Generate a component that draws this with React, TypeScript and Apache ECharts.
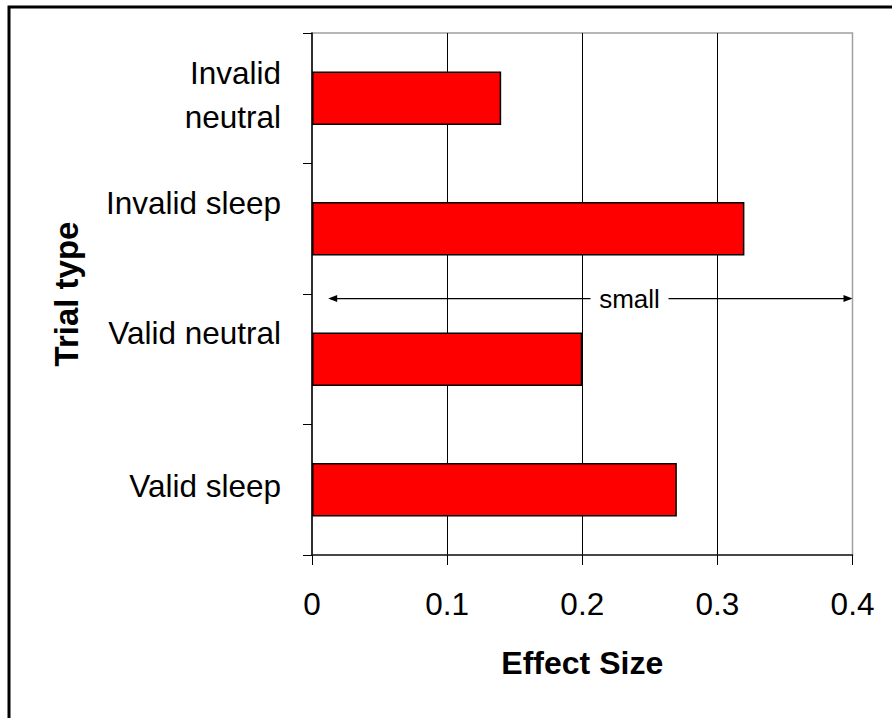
import React, { useEffect, useRef } from "react";
import * as echarts from "echarts";

// ---- data ----
const categories: string[] = ["Invalid neutral", "Invalid sleep", "Valid neutral", "Valid sleep"];
const categoryLabels: string[] = ["Invalid\nneutral", "Invalid sleep", "Valid neutral", "Valid sleep"];
const raisedLabels: string[] = ["Invalid sleep", "Valid neutral"]; // labels set higher in the original
const effectSizes: number[] = [0.14, 0.32, 0.2, 0.27];
const xTicks: number[] = [0, 0.1, 0.2, 0.3, 0.4];
const rangeLabel = "small";
const rangeFrom = 0.012; // arrow start (effect size)
const rangeTo = 0.4; // arrow end (effect size)
const rangeTextAt = 0.235; // label centre (effect size)

const FONT = "'Liberation Sans', Arial, Helvetica, sans-serif";

export default function App() {
  const ref = useRef<HTMLDivElement>(null);

  useEffect(() => {
    document.body.style.margin = "0";
    if (!ref.current) return;
    const chart = echarts.init(ref.current, null, { renderer: "svg" });

    const labelFont = { fontFamily: FONT, fontSize: 31.5, color: "#000" };

    const option: any = {
      animation: false,
      backgroundColor: "#ffffff",
      textStyle: { fontFamily: FONT, color: "#000" },
      grid: {
        show: true,
        left: 312,
        top: 33,
        right: 39.5,
        bottom: 163,
        borderColor: "#a0a0a0",
        borderWidth: 1.5,
        backgroundColor: "transparent",
      },
      xAxis: {
        type: "value",
        min: xTicks[0],
        max: xTicks[xTicks.length - 1],
        interval: 0.1,
        name: "Effect Size",
        nameLocation: "middle",
        nameGap: 92,
        nameTextStyle: { fontFamily: FONT, fontSize: 32, fontWeight: "bold", color: "#000" },
        axisLine: { show: true, lineStyle: { color: "#222", width: 1.5 } },
        axisTick: { show: true, length: 10, lineStyle: { color: "#000", width: 1 } },
        axisLabel: {
          ...labelFont,
          margin: 33,
          formatter: (v: number) => (v === 0 ? "0" : String(Math.round(v * 10) / 10)),
        },
        splitLine: {
          show: true,
          showMinLine: false,
          showMaxLine: false,
          lineStyle: { color: "#000", width: 1 },
        },
      },
      yAxis: {
        type: "category",
        data: categoryLabels,
        inverse: true,
        name: "Trial type",
        nameLocation: "middle",
        nameGap: 229,
        nameRotate: 90,
        nameTextStyle: { fontFamily: FONT, fontSize: 33, fontWeight: "bold", color: "#000" },
        axisLine: { show: true, lineStyle: { color: "#000", width: 1.5 } },
        axisTick: { show: true, length: 9, lineStyle: { color: "#000", width: 1 } },
        axisLabel: {
          ...labelFont,
          margin: 31,
          align: "right",
          padding: [0, 0, 7, 0],
          formatter: (v: string) => {
            const lines = v.split("\n");
            const key = raisedLabels.indexOf(v) >= 0 ? "u" : "n";
            return lines.map((l) => `{${key}|${l}}`).join("\n");
          },
          rich: {
            n: { ...labelFont, lineHeight: 44 },
            u: { ...labelFont, lineHeight: 36, padding: [0, 0, 45, 0] },
          },
        },
        splitLine: { show: false },
      },
      series: [
        {
          type: "bar",
          name: "Effect Size",
          data: effectSizes.map((v, i) => ({ value: v, name: categories[i] })),
          barWidth: "41%",
          itemStyle: { color: "#ff0000", borderColor: "#000", borderWidth: 1.5 },
          z: 3,
        },
      ],
    };
    chart.setOption(option);

    // range annotation, positioned through the chart's own scales
    const yA = chart.convertToPixel({ yAxisIndex: 0 }, 1) as number;
    const yB = chart.convertToPixel({ yAxisIndex: 0 }, 2) as number;
    const yArrow = yA + (yB - yA) * 0.535;
    const xL = chart.convertToPixel({ xAxisIndex: 0 }, rangeFrom) as number;
    const xR = chart.convertToPixel({ xAxisIndex: 0 }, rangeTo) as number;
    const xT = chart.convertToPixel({ xAxisIndex: 0 }, rangeTextAt) as number;
    const gap = 39;
    const head = 9;
    const hw = 3.5;
    const lineStyle = { stroke: "#000", lineWidth: 1.3 };

    chart.setOption({
      graphic: [
        {
          type: "rect",
          silent: true,
          z: 100,
          shape: { x: 9, y: 7, width: 2000, height: 2000 },
          style: { fill: "none", stroke: "#000", lineWidth: 3 },
        },
        {
          type: "line",
          silent: true,
          z: 50,
          shape: { x1: xL + 2, y1: yArrow, x2: xT - gap, y2: yArrow },
          style: lineStyle,
        },
        {
          type: "line",
          silent: true,
          z: 50,
          shape: { x1: xT + gap, y1: yArrow, x2: xR - 2, y2: yArrow },
          style: lineStyle,
        },
        {
          type: "polygon",
          silent: true,
          z: 50,
          shape: { points: [[xL, yArrow], [xL + head, yArrow - hw], [xL + head, yArrow + hw]] },
          style: { fill: "#000" },
        },
        {
          type: "polygon",
          silent: true,
          z: 50,
          shape: { points: [[xR, yArrow], [xR - head, yArrow - hw], [xR - head, yArrow + hw]] },
          style: { fill: "#000" },
        },
        {
          type: "text",
          silent: true,
          z: 50,
          x: xT,
          y: yArrow,
          style: {
            text: rangeLabel,
            fontFamily: FONT,
            fontSize: 26,
            fill: "#000",
            align: "center",
            verticalAlign: "middle",
          },
        },
      ],
    });

    return () => chart.dispose();
  }, []);

  return <div ref={ref} style={{ width: 892, height: 718 }} />;
}
